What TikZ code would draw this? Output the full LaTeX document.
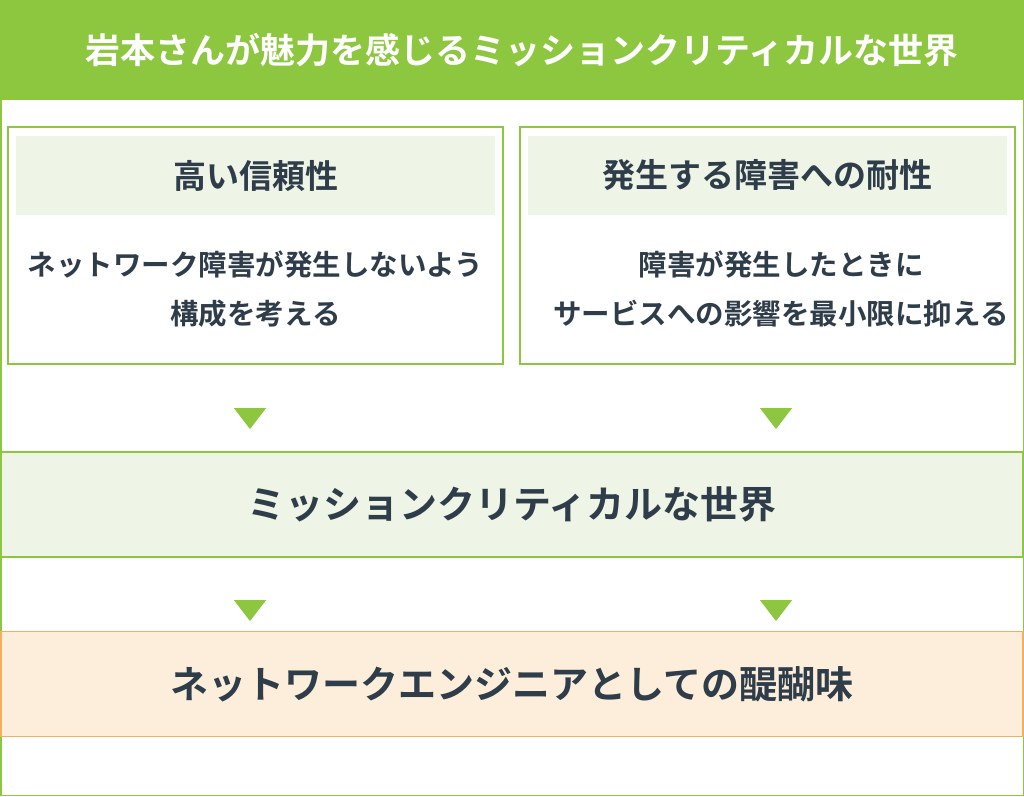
\documentclass[tikz,border=0pt]{standalone}
\usepackage{fontspec}
\setmainfont{Noto Sans CJK JP}
\newfontfamily\jpbold{Noto Sans CJK JP Bold}
\usetikzlibrary{shapes.geometric}
\definecolor{leaf}{HTML}{8DC63F}
\definecolor{paleleaf}{HTML}{EEF4E6}
\definecolor{paleorange}{HTML}{FDEEDB}
\definecolor{edgeorange}{HTML}{F0B060}
\definecolor{ink}{HTML}{2E3D49}
\tikzstyle{titletext} = [text=white, font=\jpbold\fontsize{35}{40}\selectfont, inner sep=0]
\tikzstyle{card}     = [rectangle, draw=leaf, line width=1.2pt, minimum width=495pt, minimum height=237pt]
\tikzstyle{cardhead} = [rectangle, fill=paleleaf, text=ink, minimum width=479pt, minimum height=79pt, font=\jpbold\fontsize{33}{38}\selectfont]
\tikzstyle{cardbody} = [text=ink, align=center, font=\jpbold\fontsize{28.5}{49}\selectfont]
\tikzstyle{band}     = [rectangle, draw=leaf, line width=1.2pt, fill=paleleaf, text=ink, minimum width=1022pt, minimum height=105pt, font=\jpbold\fontsize{38}{44}\selectfont]
\tikzstyle{tri}      = [isosceles triangle, shape border rotate=-90, isosceles triangle apex angle=75, fill=leaf, minimum height=21pt, minimum width=30pt, inner sep=0]
\begin{document}
\begin{tikzpicture}[x=1pt,y=-1pt]
    \useasboundingbox (0,0) rectangle (1024,796);
    % frame
    \draw [leaf, line width=1.5pt] (0.75,0) rectangle (1023.25,795.25);
    \fill [leaf] (0,0) rectangle (1024,100);
    \node (title) [titletext] at (522,50) {岩本さんが魅力を感じるミッションクリティカルな世界};
    % cards
    \node (left)  [card] at (255.5,245.5) {};
    \node (right) [card] at (767.5,245.5) {};
    \node (lhead) [cardhead] at (255.5,175.5) {高い信頼性};
    \node (rhead) [cardhead] at (767.5,175.5) {発生する障害への耐性};
    \node (lbody) [cardbody] at (255.5,289) {ネットワーク障害が発生しないよう\\構成を考える};
    \node (rbody) [cardbody] at (781,289) {障害が発生したときに\\サービスへの影響を最小限に抑える};
    % bands
    \node (world) [band] at (512,504.5) {ミッションクリティカルな世界};
    \node (joy)   [band, draw=edgeorange, fill=paleorange] at (512,684) {ネットワークエンジニアとしての醍醐味};
    % arrows
    \node (t1) [tri] at (250,416) {};
    \node (t2) [tri] at (776,416) {};
    \node (t3) [tri] at (250,608) {};
    \node (t4) [tri] at (776,608) {};
\end{tikzpicture}
\end{document}
